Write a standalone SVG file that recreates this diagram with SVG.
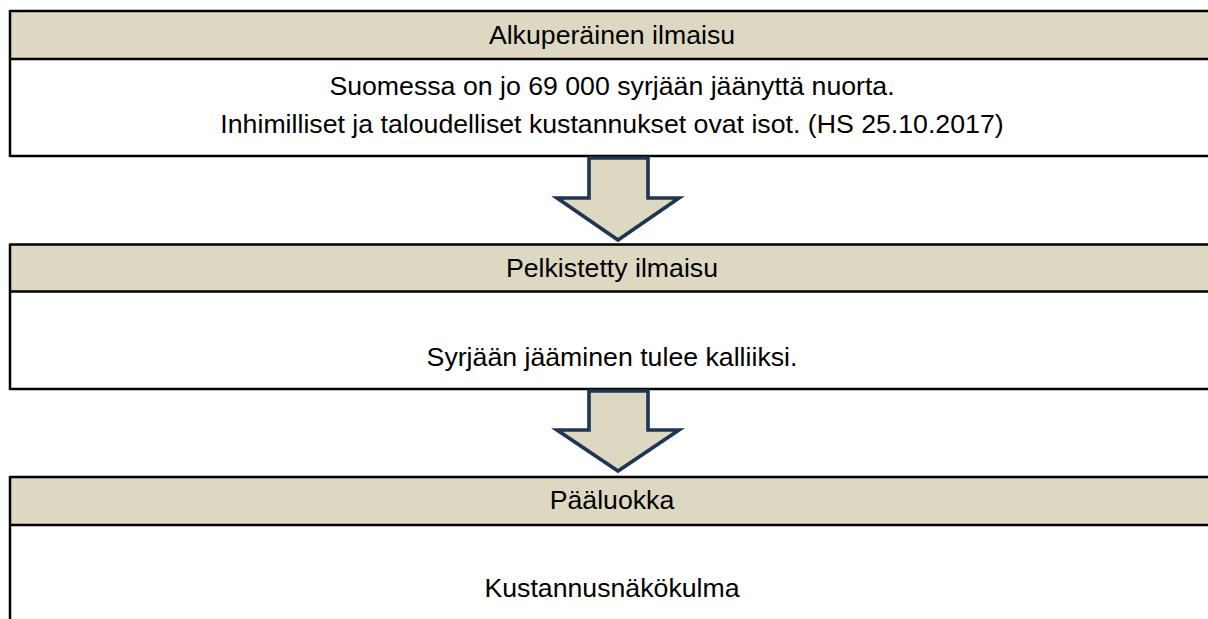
<svg xmlns="http://www.w3.org/2000/svg" width="1208" height="619" viewBox="0 0 1208 619">
<style>
.hdr{fill:#ddd8c2;stroke:none}
.ln{stroke:#000;stroke-width:2.5;fill:none}
.t{font-family:"Liberation Sans",Arial,sans-serif;font-size:26.7px;fill:#000;text-anchor:middle}
.arr{fill:#ddd8c2;stroke:#1f3552;stroke-width:3.6;stroke-linejoin:miter}
</style>
<rect width="1208" height="619" fill="#fff"/>
<g id="node1">
<rect class="hdr" x="10" y="11" width="1210" height="48"/>
<path class="ln" d="M10 11H1210M10 59H1210M10 156H1210M10 10V157"/>
<text class="t" x="612" y="44">Alkuperäinen ilmaisu</text>
<text class="t" x="612" y="95">Suomessa on jo 69 000 syrjään jäänyttä nuorta.</text>
<text class="t" x="612" y="133">Inhimilliset ja taloudelliset kustannukset ovat isot. (HS 25.10.2017)</text>
</g>
<g id="node2">
<rect class="hdr" x="10" y="244.5" width="1210" height="47"/>
<path class="ln" d="M10 244.5H1210M10 291.5H1210M10 389H1210M10 243.5V390"/>
<text class="t" x="612" y="277">Pelkistetty ilmaisu</text>
<text class="t" x="612" y="366">Syrjään jääminen tulee kalliiksi.</text>
</g>
<g id="node3">
<rect class="hdr" x="10" y="477" width="1210" height="48"/>
<path class="ln" d="M10 477H1210M10 525H1210M10 476V619"/>
<text class="t" x="612" y="509">Pääluokka</text>
<text class="t" x="612" y="597">Kustannusnäkökulma</text>
</g>
<g id="connectors">
<polygon class="arr" points="589,158 648,158 648,198 679,198 618,240 557,198 589,198"/>
<polygon class="arr" points="589,391 648,391 648,430 679,430 618,471 557,430 589,430"/>
</g>
</svg>
